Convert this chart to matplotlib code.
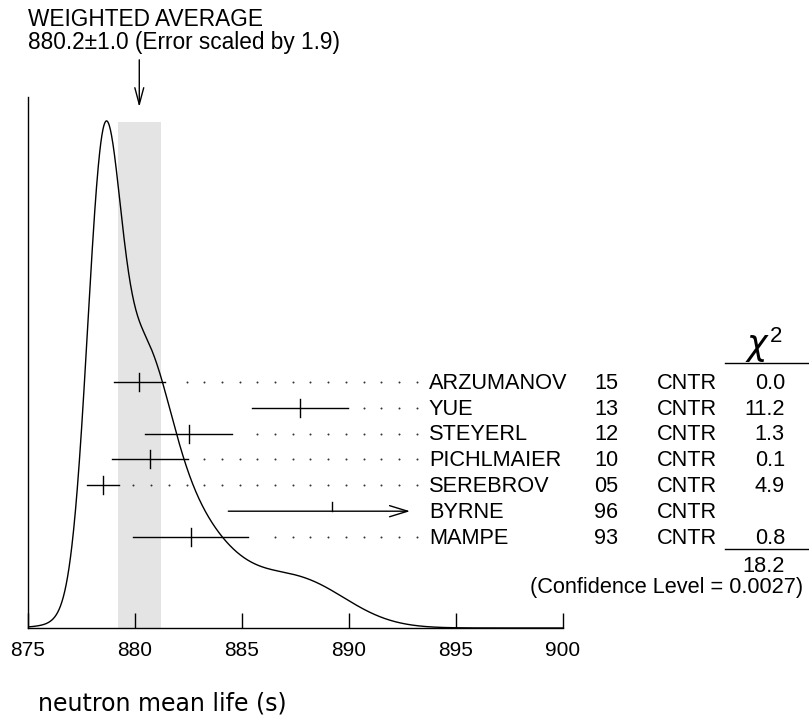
import numpy as np
import matplotlib.pyplot as plt
from matplotlib.lines import Line2D

plt.rcParams['font.family'] = ['Liberation Sans', 'DejaVu Sans']

# measurements (PDG ideogram, neutron mean life)
names = ["ARZUMANOV", "YUE", "STEYERL", "PICHLMAIER", "SEREBROV", "BYRNE", "MAMPE"]
years = ["15", "13", "12", "10", "05", "96", "93"]
techs = ["CNTR", "CNTR", "CNTR", "CNTR", "CNTR", "CNTR", "CNTR"]
values = [880.2, 887.7, 882.5, 880.7, 878.5, 889.2, 882.6]
errors = [1.2, 2.25, 2.05, 1.77, 0.76, 4.84, 2.7]
chi2 = ["0.0", "11.2", "1.3", "0.1", "4.9", "", "0.8"]
used = [True, True, True, True, True, False, True]

avg, avg_err = 880.2, 1.0
chi2_total = "18.2"
conf_level = "0.0027"
xticks = [875, 880, 885, 890, 895, 900]

W, H = 809, 717
def fx(px):
    return px / W
def fy(py):
    return 1 - py / H

fig = plt.figure(figsize=(W / 100, H / 100), dpi=100)
ax = fig.add_axes([fx(28), fy(628), (563 - 28) / W, (628 - 97) / H])
trans = ax.get_xaxis_transform()

# ideogram: sum of gaussians, area ~ 1/err
xs = np.linspace(875, 900, 1500)
ideo = np.zeros_like(xs)
for v, e, u in zip(values, errors, used):
    if u:
        ideo += np.exp(-0.5 * ((xs - v) / e) ** 2) / e ** 2

ax.axvspan(avg - avg_err, avg + avg_err, ymin=0, ymax=0.953, color='#e4e4e4', lw=0, zorder=0)
ax.plot(xs, ideo, color='k', lw=1.0)
ax.set_xlim(875, 900)
ax.set_ylim(0, ideo.max() / 0.955)

for s in ['top', 'right']:
    ax.spines[s].set_visible(False)
for s in ['left', 'bottom']:
    ax.spines[s].set_linewidth(1.0)
ax.set_yticks([])
ax.set_xticks(xticks)
ax.tick_params(axis='x', direction='in', length=10.8, width=1.0, labelsize=15, pad=9)

# weighted average arrow + title
ax.annotate('', xy=(avg, 0.981), xycoords=trans, xytext=(avg, 1.07), textcoords=trans,
            arrowprops=dict(arrowstyle='->,head_length=1.2,head_width=0.32', lw=1.0,
                            color='k', mutation_scale=10, shrinkA=0, shrinkB=0),
            annotation_clip=False)
fig.text(fx(28), fy(19), "WEIGHTED AVERAGE", fontsize=16.3, ha='left', va='center')
fig.text(fx(28), fy(42), "%.1f\u00b1%.1f (Error scaled by 1.9)" % (avg, avg_err),
         fontsize=16.3, ha='left', va='center')

# measurement rows
row0, dy = 381.7, 25.9
dots = 893.16 - 0.827 * np.arange(25)
tick = 9 / 531
fs = 15.7
for i in range(len(names)):
    py = row0 + i * dy
    ry = (628 - py) / 531
    v, e = values[i], errors[i]
    if names[i] == "BYRNE":
        ax.annotate('', xy=(892.85, ry), xycoords=trans, xytext=(v - e, ry), textcoords=trans,
                    arrowprops=dict(arrowstyle='->,head_length=1.3,head_width=0.4', lw=1.0,
                                    color='k', mutation_scale=10, shrinkA=0, shrinkB=0),
                    annotation_clip=False)
        ax.plot([v, v], [ry, ry + tick], color='k', lw=1.0, transform=trans, clip_on=False)
    else:
        ax.plot([v - e, v + e], [ry, ry], color='k', lw=1.0, transform=trans, clip_on=False)
        ax.plot([v, v], [ry - tick, ry + tick], color='k', lw=1.0, transform=trans, clip_on=False)
        d = dots[dots > v + e + 0.55]
        ax.plot(d, [ry] * len(d), linestyle='none', marker='o', ms=0.9, color='#333333',
                mew=0.5, transform=trans, clip_on=False)
    fig.text(fx(429), fy(py + 1.5), names[i], fontsize=fs, ha='left', va='center')
    fig.text(fx(594), fy(py + 1.5), years[i], fontsize=fs, ha='left', va='center')
    fig.text(fx(657), fy(py + 1.5), techs[i], fontsize=fs, ha='left', va='center')
    fig.text(fx(785), fy(py + 1.5), chi2[i], fontsize=fs, ha='right', va='center')

# chi2 column
fig.text(fx(758), fy(355), r"$\chi$", fontsize=25, ha='center', va='baseline')
fig.text(fx(770), fy(342), "2", fontsize=16, ha='left', va='baseline')
fig.add_artist(Line2D([fx(725), fx(809)], [fy(362.5), fy(362.5)], color='k', lw=1.0))
fig.add_artist(Line2D([fx(725), fx(809)], [fy(549), fy(549)], color='k', lw=1.0))
fig.text(fx(785), fy(566), chi2_total, fontsize=fs, ha='right', va='center')
fig.text(fx(803), fy(588), "(Confidence Level = %s)" % conf_level, fontsize=fs,
         ha='right', va='center')

fig.text(fx(38), fy(711), "neutron mean life (s)", family='DejaVu Sans', fontsize=17,
         ha='left', va='baseline')

fig.savefig("out.png", dpi=100)
